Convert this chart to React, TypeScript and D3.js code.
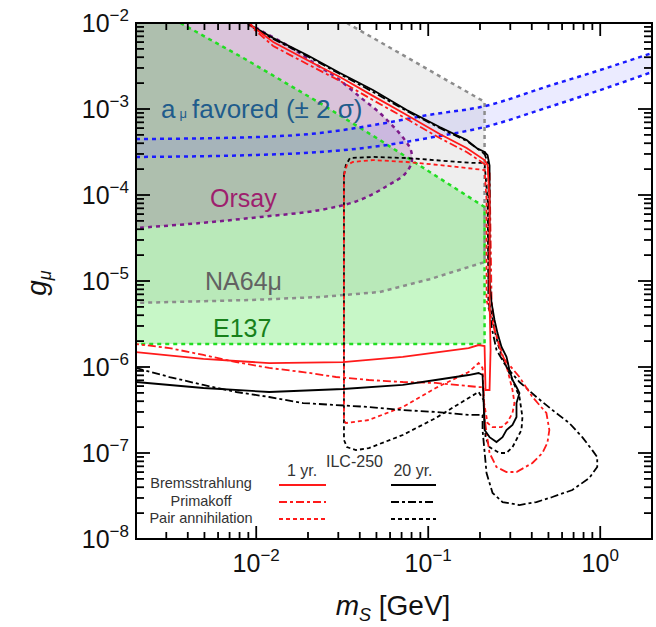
import React from 'react';
import * as d3 from 'd3';

// all points are [m_S in GeV, g_mu]

const amuMass = [0.002, 0.01, 0.0235, 0.0524, 0.1, 0.213, 0.5, 1, 2];
const amuUpper = [4.47e-4, 4.72e-4, 5.26e-4, 6.7e-4, 8.51e-4, 1.08e-3, 1.85e-3, 2.84e-3, 4.47e-3];
const amuLower = [2.77e-4, 2.92e-4, 3.16e-4, 3.71e-4, 4.6e-4, 6.18e-4, 1.05e-3, 1.66e-3, 2.69e-3];

const na64Edge = [
  [0.0019, 5.55e-6], [0.00923, 6.01e-6], [0.0235, 6.52e-6], [0.0523, 7.45e-6],
  [0.102, 1.05e-5], [0.2126, 1.66e-5], [0.2126, 1.21e-3], [0.0337, 1e-2],
];

const e137Edge = [
  [0.00362, 1e-2], [0.00841, 3.92e-3], [0.0235, 1.17e-3], [0.0523, 4.36e-4],
  [0.2126, 7.25e-5], [0.2126, 1.85e-6], [0.0019, 1.85e-6],
];

const orsayEdge = [
  [0.0019, 4.1e-5], [0.00473, 4.72e-5], [0.01055, 5.55e-5], [0.0235, 6.69e-5],
  [0.0401, 8.74e-5], [0.0575, 1.27e-4], [0.0731, 1.75e-4], [0.0802, 2.42e-4],
  [0.0792, 3.34e-4], [0.0731, 4.36e-4], [0.0639, 6.01e-4], [0.0523, 8.98e-4],
  [0.0401, 1.38e-3], [0.0295, 2.29e-3], [0.0235, 3.08e-3], [0.01574, 5.26e-3],
  [0.011, 7.86e-3], [0.009, 1e-2], [0.0085, 1.1e-2],
];

// 1 yr. (red) and 20 yr. (black) ILC-250 reach
const brems20 = [
  [0.0085, 1.1e-2], [0.00923, 9.48e-3], [0.01255, 6.69e-3], [0.01975, 4.25e-3],
  [0.03069, 2.62e-3], [0.04769, 1.66e-3], [0.07504, 9.74e-4], [0.1166, 6.18e-4],
  [0.1672, 4.36e-4], [0.191, 3.52e-4], [0.2126, 3.16e-4], [0.2213, 2.9e-4],
  [0.2273, 2.2e-4], [0.2273, 1e-5], [0.2335, 5.55e-6], [0.2429, 3.52e-6],
  [0.2528, 2.48e-6], [0.2668, 1.71e-6], [0.2851, 1.31e-6], [0.2969, 9.23e-7],
  [0.309, 7.06e-7], [0.326, 5.85e-7], [0.3392, 4.98e-7], [0.326, 3.81e-7],
  [0.326, 2.62e-7], [0.309, 2.12e-7], [0.2851, 1.85e-7], [0.2704, 1.53e-7],
  [0.2494, 1.34e-7], [0.2273, 1.53e-7], [0.2126, 1.85e-7], [0.2098, 4.13e-7],
  [0.207, 8.07e-7], [0.1963, 8.51e-7], [0.1717, 8.07e-7], [0.1105, 7.06e-7],
  [0.07114, 6.18e-7], [0.03194, 5.55e-7], [0.01189, 5.12e-7], [0.00493, 5.7e-7],
  [0.002, 6.69e-7], [0.0019, 6.75e-7],
];

const brems1 = [
  [0.0089, 1.05e-2], [0.009607, 8.98e-3], [0.01255, 6.01e-3], [0.01975, 3.71e-3],
  [0.03069, 2.36e-3], [0.04769, 1.42e-3], [0.07504, 8.51e-4], [0.1166, 5.12e-4],
  [0.1672, 3.52e-4], [0.2126, 2.55e-4], [0.2213, 2.23e-4], [0.2273, 8.74e-5],
  [0.2273, 6.01e-6], [0.2304, 1.58e-6], [0.2273, 5.4e-7], [0.2154, 5.4e-7],
  [0.2126, 1.75e-6], [0.1963, 1.8e-6], [0.1717, 1.66e-6], [0.07114, 1.31e-6],
  [0.03194, 1.14e-6], [0.01189, 1.11e-6], [0.00493, 1.24e-6], [0.002, 1.49e-6],
  [0.0019, 1.5e-6],
];

const prim1 = [
  [0.0088, 1.05e-2], [0.00961, 8.6e-3], [0.01255, 5.4e-3], [0.01975, 3.34e-3],
  [0.03069, 2.12e-3], [0.04769, 1.27e-3], [0.07504, 7.65e-4], [0.1166, 4.6e-4],
  [0.1672, 3.16e-4], [0.2126, 2.29e-4], [0.2273, 1.95e-4], [0.2335, 6.01e-6],
  [0.2429, 2.69e-6], [0.2704, 1.31e-6], [0.3392, 7.65e-7], [0.4035, 4.48e-7],
  [0.4864, 2.92e-7], [0.5061, 1.85e-7], [0.493, 1.31e-7], [0.4611, 1e-7],
  [0.4035, 7.65e-8], [0.326, 6.01e-8], [0.2851, 6.01e-8], [0.2494, 6.87e-8],
  [0.2273, 1e-7], [0.2183, 1.71e-7], [0.2126, 2.62e-7], [0.2098, 5.85e-7],
  [0.1963, 5.85e-7], [0.1105, 6.52e-7], [0.07114, 6.69e-7], [0.04518, 7.06e-7],
  [0.02909, 7.65e-7], [0.01873, 8.74e-7], [0.01189, 9.74e-7], [0.007657, 1.14e-6],
  [0.00493, 1.38e-6], [0.003131, 1.66e-6], [0.002, 1.85e-6],
];

const prim20 = [
  [0.0086, 1.08e-2], [0.00923, 9.23e-3], [0.01255, 6.52e-3], [0.01975, 4.13e-3],
  [0.03069, 2.55e-3], [0.04769, 1.58e-3], [0.07504, 9.48e-4], [0.1166, 6.01e-4],
  [0.1672, 4.25e-4], [0.2126, 3e-4], [0.2243, 2.23e-4], [0.2243, 6.01e-6],
  [0.2335, 2.92e-6], [0.2494, 1.58e-6], [0.2851, 1e-6], [0.3392, 6.69e-7],
  [0.4256, 4.48e-7], [0.5268, 3.16e-7], [0.661, 2.23e-7], [0.7864, 1.53e-7],
  [0.8987, 1.08e-7], [0.9607, 8.98e-8], [0.9607, 6.87e-8], [0.8635, 5.12e-8],
  [0.6882, 3.71e-8], [0.5268, 3.08e-8], [0.4256, 2.69e-8], [0.3392, 2.48e-8],
  [0.2704, 2.69e-8], [0.2366, 3.43e-8], [0.2183, 5.85e-8], [0.207, 1.85e-7],
  [0.207, 2.77e-7], [0.1717, 2.77e-7], [0.1105, 3e-7], [0.07114, 3.16e-7],
  [0.04518, 3.43e-7], [0.02909, 3.61e-7], [0.01873, 3.81e-7], [0.01189, 4.48e-7],
  [0.007657, 5.12e-7], [0.00493, 6.18e-7], [0.003131, 7.65e-7], [0.002, 9.74e-7],
];

const pair1 = [
  [0.03237, 1.71e-4], [0.0337, 2.23e-4], [0.0365, 2.42e-4], [0.04769, 2.55e-4],
  [0.07504, 2.42e-4], [0.1166, 2.23e-4], [0.2126, 1.95e-4], [0.2183, 8.74e-5],
  [0.2183, 6.01e-6], [0.2335, 3.52e-6], [0.2597, 1.8e-6], [0.289, 9.23e-7],
  [0.309, 5.4e-7], [0.3172, 3.81e-7], [0.309, 2.92e-7], [0.289, 2.29e-7],
  [0.2668, 2e-7], [0.2366, 2e-7], [0.2213, 2.23e-7], [0.2098, 4.13e-7],
  [0.207, 9.74e-7], [0.1963, 1.11e-6], [0.1717, 8.74e-7], [0.1105, 5.7e-7],
  [0.07114, 3.43e-7], [0.04518, 2.42e-7], [0.0365, 2.29e-7], [0.0332, 2.23e-7],
  [0.03237, 2.42e-7], [0.03237, 1.71e-4],
];

const pair20 = [
  [0.03237, 1.71e-4], [0.0332, 2.23e-4], [0.03507, 2.69e-4], [0.04769, 2.77e-4],
  [0.07504, 2.69e-4], [0.1811, 2.36e-4], [0.2126, 2.36e-4], [0.2213, 8.74e-5],
  [0.2243, 6.01e-6], [0.2335, 4.25e-6], [0.2429, 2.69e-6], [0.2597, 1.58e-6],
  [0.2851, 1e-6], [0.309, 7.06e-7], [0.3392, 4.48e-7], [0.353, 2.62e-7],
  [0.3483, 1.85e-7], [0.309, 1.17e-7], [0.2851, 1e-7], [0.2597, 1e-7],
  [0.2273, 1.17e-7], [0.2154, 1.53e-7], [0.2098, 4.13e-7], [0.1963, 5.12e-7],
  [0.1717, 4.36e-7], [0.1105, 2.55e-7], [0.07114, 1.62e-7], [0.04518, 1.14e-7],
  [0.038, 1.08e-7], [0.0337, 1.17e-7], [0.03237, 1.42e-7], [0.03237, 1.71e-4],
];

const legendRows = ['Bremsstrahlung', 'Primakoff', 'Pair annihilation'];
const legendDash = [null, '8 3 3 3', '4 3'];

const W = 656;
const H = 627;
const M = { left: 136, right: 652, top: 23, bottom: 539 };
const FONT = "'Liberation Sans', Arial, Helvetica, sans-serif";
const RED = '#ff1a1a';

const x = d3.scaleLog().domain([0.002, 2]).range([M.left, M.right]);
const y = d3.scaleLog().domain([1e-8, 1e-2]).range([M.bottom, M.top]);

const line = d3.line<number[]>().x(d => x(d[0])).y(d => y(d[1]));
const smooth = d3.line<number[]>().x(d => x(d[0])).y(d => y(d[1])).curve(d3.curveCatmullRom.alpha(0.5));

const amuPts = amuMass.map((m, i) => [m, amuLower[i], amuUpper[i]]);
const band = d3.area<number[]>()
  .x(d => x(d[0])).y0(d => y(d[1])).y1(d => y(d[2]))
  .curve(d3.curveMonotoneX);
const amuLine = (k: number) => d3.line<number[]>()
  .x(d => x(d[0])).y(d => y(d[k])).curve(d3.curveMonotoneX)(amuPts) as string;

const closeTopLeft = `L${M.left - 5},${M.top - 5}Z`;

const isMajor = (v: number) => Math.abs(Math.log10(v) - Math.round(Math.log10(v))) < 1e-6;

const Pow = ({ e }: { e: number }) => (
  <>
    <tspan>10</tspan>
    <tspan fontSize={17} dy={-11}>{e === 0 ? '0' : '\u2212' + Math.abs(e)}</tspan>
  </>
);

export default function App() {
  const xTicks = x.ticks();
  const yTicks = y.ticks();
  const dashed = { fill: 'none', strokeWidth: 2.5, strokeDasharray: '4 4' };

  return (
    <svg width={W} height={H} style={{ position: 'absolute', left: 0, top: 0, background: '#fff' }} fontFamily={FONT}>
      <defs>
        <clipPath id="plot">
          <rect x={M.left} y={M.top} width={M.right - M.left} height={M.bottom - M.top} />
        </clipPath>
      </defs>

      <g clipPath="url(#plot)">
        {/* filled regions */}
        <path d={line(na64Edge) + closeTopLeft} fill="#000" fillOpacity={0.065} />
        <path d={line(e137Edge) + closeTopLeft} fill="rgb(0,220,0)" fillOpacity={0.22} />
        <path d={smooth(orsayEdge) + closeTopLeft} fill="rgb(128,0,128)" fillOpacity={0.18} />
        <path d={band(amuPts) as string} fill="rgb(120,120,255)" fillOpacity={0.15} />

        {/* region borders */}
        <path d={line(na64Edge) as string} stroke="#8c8c8c" {...dashed} />
        <path d={line(e137Edge) as string} stroke="#22dd22" {...dashed} />
        <path d={smooth(orsayEdge) as string} stroke="#7d1a8a" {...dashed} />
        <path d={amuLine(1)} stroke="#1a1aff" {...dashed} />
        <path d={amuLine(2)} stroke="#1a1aff" {...dashed} />

        {/* ILC-250 sensitivity */}
        <path d={line(pair20) as string} fill="none" stroke="#000" strokeWidth={1.8} strokeDasharray="4 3" />
        <path d={line(pair1) as string} fill="none" stroke={RED} strokeWidth={1.8} strokeDasharray="4 3" />
        <path d={line(prim20) as string} fill="none" stroke="#000" strokeWidth={1.8} strokeDasharray="8 3 3 3" />
        <path d={line(prim1) as string} fill="none" stroke={RED} strokeWidth={1.8} strokeDasharray="8 3 3 3" />
        <path d={line(brems20) as string} fill="none" stroke="#000" strokeWidth={1.8} />
        <path d={line(brems1) as string} fill="none" stroke={RED} strokeWidth={1.8} />
      </g>

      {/* region labels */}
      <text x={161} y={118} fontSize={26} fill="#1f5c8c">
        a<tspan fontSize={13} dx={4}>μ</tspan><tspan dx={5}>favored (± 2 σ)</tspan>
      </text>
      <text x={210} y={207} fontSize={25} fill="#9e1f6e">Orsay</text>
      <text x={205} y={290} fontSize={25} fill="#626262">NA64μ</text>
      <text x={213} y={337} fontSize={25} fill="#17801a">E137</text>
      <text x={326} y={467} fontSize={16} fill="#333">ILC-250</text>

      {/* legend */}
      <text x={302} y={476} fontSize={16} fill="#333" textAnchor="middle">1 yr.</text>
      <text x={413} y={476} fontSize={16} fill="#333" textAnchor="middle">20 yr.</text>
      {legendRows.map((name, i) => (
        <g key={name}>
          <text x={201} y={488 + i * 17.5} fontSize={14.5} fill="#333" textAnchor="middle">{name}</text>
          <line x1={279} x2={326} y1={485 + i * 17} y2={485 + i * 17} stroke={RED} strokeWidth={1.8}
            strokeDasharray={legendDash[i] ?? undefined} />
          <line x1={391} x2={436} y1={485 + i * 17} y2={485 + i * 17} stroke="#000" strokeWidth={1.8}
            strokeDasharray={legendDash[i] ?? undefined} />
        </g>
      ))}

      {/* ticks */}
      {xTicks.map((t, i) => {
        const len = isMajor(t) ? 13 : 7;
        const px = x(t);
        return (
          <g key={'x' + i} stroke="#000" strokeWidth={1.8}>
            <line x1={px} x2={px} y1={M.bottom} y2={M.bottom - len} />
            <line x1={px} x2={px} y1={M.top} y2={M.top + len} />
          </g>
        );
      })}
      {yTicks.map((t, i) => {
        const len = isMajor(t) ? 14 : 8;
        const py = y(t);
        return (
          <g key={'y' + i} stroke="#000" strokeWidth={1.8}>
            <line x1={M.left} x2={M.left + len} y1={py} y2={py} />
            <line x1={M.right} x2={M.right - len} y1={py} y2={py} />
          </g>
        );
      })}
      <rect x={M.left} y={M.top} width={M.right - M.left} height={M.bottom - M.top}
        fill="none" stroke="#000" strokeWidth={2} />

      {/* tick labels */}
      {xTicks.filter(isMajor).map(t => (
        <text key={'xl' + t} x={x(t)} y={572} fontSize={25} textAnchor="middle" fill="#111">
          <Pow e={Math.round(Math.log10(t))} />
        </text>
      ))}
      {yTicks.filter(isMajor).map(t => (
        <text key={'yl' + t} x={129} y={y(t) + 9} fontSize={25} textAnchor="end" fill="#111">
          <Pow e={Math.round(Math.log10(t))} />
        </text>
      ))}

      {/* axis titles */}
      <text x={393} y={615} fontSize={28} textAnchor="middle" fill="#111">
        <tspan fontStyle="italic">m</tspan>
        <tspan fontStyle="italic" fontSize={18} dy={6}>S</tspan>
        <tspan dy={-6}> [GeV]</tspan>
      </text>
      <text transform="translate(46,283) rotate(-90)" fontSize={28} textAnchor="middle" fill="#111">
        <tspan fontStyle="italic">g</tspan>
        <tspan fontStyle="italic" fontSize={18} dy={5}>μ</tspan>
      </text>
    </svg>
  );
}
